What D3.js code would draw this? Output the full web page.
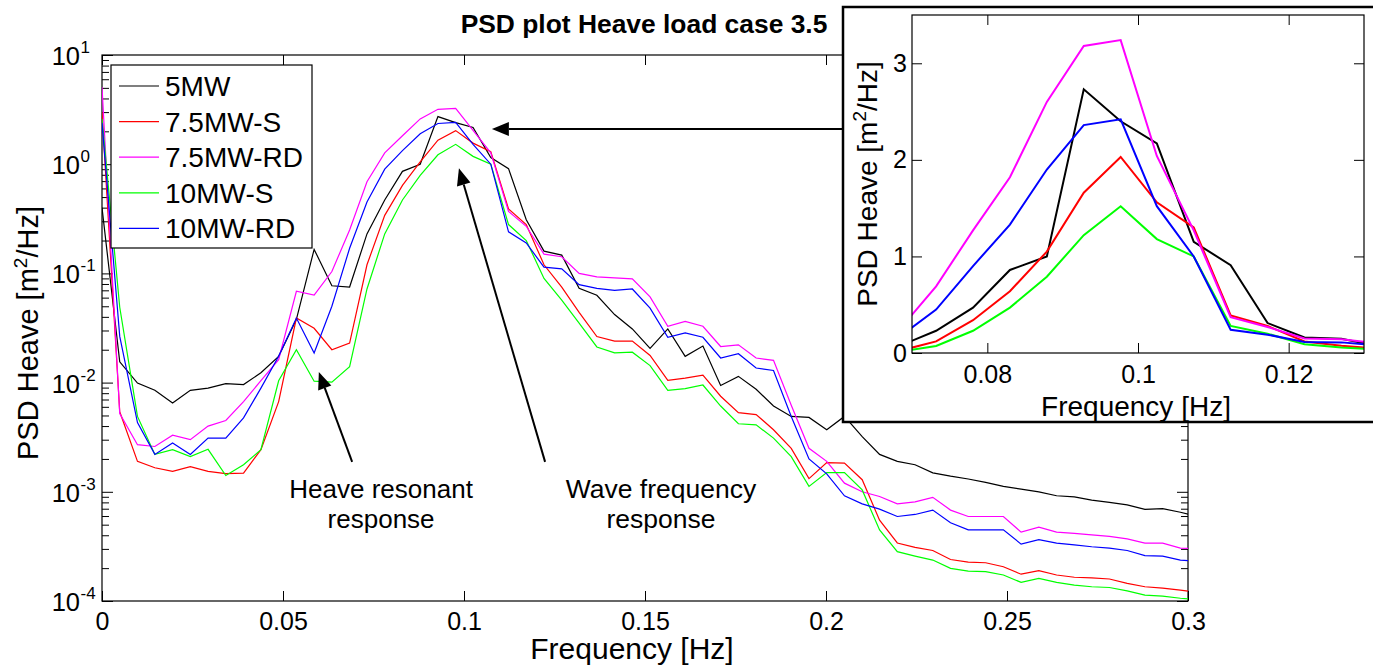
<!DOCTYPE html>
<html><head><meta charset="utf-8">
<script src="https://cdn.jsdelivr.net/npm/d3@7/dist/d3.min.js"></script>
<style>
html,body{margin:0;padding:0;background:#fff;}
svg{display:block;font-family:"Liberation Sans",Arial,Helvetica,sans-serif;}
</style></head><body>
<svg id="chart" width="1373" height="667"></svg>
<script>
// ---------------- DATA ----------------
const frequency = [0,0.0049,0.0098,0.0146,0.0195,0.0244,0.0293,0.0342,0.0391,0.0439,
  0.0488,0.0537,0.0586,0.0635,0.0684,0.0732,0.0781,0.0830,0.0879,0.0928,
  0.0977,0.1025,0.1074,0.1123,0.1172,0.1221,0.1270,0.1318,0.1367,0.1416,
  0.1465,0.1514,0.1563,0.1611,0.1660,0.1709,0.1758,0.1807,0.1855,0.1904,
  0.1953,0.2002,0.2051,0.2100,0.2148,0.2197,0.2246,0.2295,0.2344,0.2393,
  0.2441,0.2490,0.2539,0.2588,0.2637,0.2686,0.2734,0.2783,0.2832,0.2881,
  0.2930,0.2979,0.3027];

const seriesNames = ["5MW","7.5MW-S","7.5MW-RD","10MW-S","10MW-RD"];

const psd5MW = [0.4,0.0155,0.0099,0.0085,0.0065,0.0085,0.0089,0.0098,0.0096,0.0123,
  0.0174,0.038,0.166,0.077,0.075,0.23,0.47,0.86,1.0,2.73,
  2.4,2.17,1.15,0.91,0.31,0.16,0.147,0.073,0.063,0.042,
  0.031,0.0206,0.031,0.0174,0.0216,0.0094,0.0114,0.0087,0.0061,0.0049,
  0.0048,0.0037,0.0049,0.0032,0.0022,0.0019,0.00177,0.00149,0.00139,0.00131,
  0.00122,0.00112,0.00106,0.001,0.00092,0.0009,0.00084,0.0008,0.00076,0.00069,
  0.0007,0.00065,0.00059];

const psd75MWS = [3.0,0.0054,0.0019,0.00166,0.00154,0.0017,0.00154,0.00147,0.00148,0.00243,
  0.0067,0.039,0.0314,0.02,0.023,0.12,0.34,0.64,1.05,1.66,
  2.03,1.56,1.3,0.39,0.28,0.12,0.075,0.044,0.0264,0.024,
  0.024,0.0177,0.0105,0.011,0.0117,0.0075,0.0053,0.0051,0.0037,0.0025,
  0.00132,0.00185,0.00183,0.00129,0.00055,0.00034,0.00031,0.00029,0.00024,0.000227,
  0.000224,0.000206,0.000176,0.00019,0.000173,0.000165,0.000163,0.000159,0.000145,0.000135,
  0.000131,0.000126,0.00012];

const psd75MWRD = [5.1,0.0052,0.0027,0.0026,0.0033,0.003,0.004,0.0045,0.0067,0.0104,
  0.0162,0.0686,0.0634,0.104,0.25,0.69,1.27,1.82,2.6,3.18,
  3.24,2.04,1.27,0.37,0.27,0.15,0.142,0.1,0.093,0.091,
  0.089,0.061,0.0328,0.0364,0.0328,0.0214,0.0222,0.0168,0.016,0.0062,
  0.0025,0.0019,0.0012,0.001,0.000905,0.000776,0.00081,0.00089,0.00068,0.000594,
  0.000594,0.000594,0.000427,0.000475,0.000427,0.000417,0.000403,0.00039,0.000371,0.000339,
  0.000339,0.000305,0.0003];

const psd10MWS = [2.6,0.049,0.0049,0.0022,0.00243,0.0021,0.00245,0.00141,0.00177,0.00243,
  0.0104,0.02,0.0103,0.0101,0.014,0.072,0.23,0.47,0.79,1.22,
  1.52,1.18,1.0,0.28,0.2,0.09,0.057,0.035,0.0212,0.0187,
  0.019,0.0143,0.0085,0.0088,0.0095,0.0061,0.0042,0.0041,0.0031,0.0021,
  0.00112,0.0015,0.0015,0.00104,0.000447,0.000283,0.000258,0.000237,0.000199,0.000188,
  0.000186,0.000173,0.000148,0.000161,0.000148,0.00014,0.000135,0.000133,0.000124,0.000113,
  0.000111,0.000106,0.000103];

const psd10MWRD = [2.4,0.0265,0.0043,0.0022,0.0028,0.0022,0.0031,0.0031,0.00475,0.0089,
  0.0174,0.039,0.0187,0.05,0.17,0.45,0.9,1.33,1.9,2.36,
  2.42,1.52,1.0,0.24,0.19,0.114,0.11,0.079,0.073,0.07,
  0.072,0.048,0.026,0.0285,0.026,0.0168,0.0184,0.0136,0.0129,0.0049,
  0.002,0.00146,0.00092,0.000776,0.000694,0.000594,0.00062,0.00068,0.00052,0.000449,
  0.000449,0.000449,0.000332,0.000364,0.000339,0.000327,0.000314,0.000305,0.00029,0.00026,
  0.000258,0.000237,0.00023];

const seriesColors = ["#000000","#ff0000","#ff00ff","#00ff00","#0000ff"];

const xTicksMain = [0,0.05,0.1,0.15,0.2,0.25,0.3];
const xTickLabelsMain = ["0","0.05","0.1","0.15","0.2","0.25","0.3"];
const yDecades = [1e-4,1e-3,1e-2,1e-1,1,10];
const yExponents = ["-4","-3","-2","-1","0","1"];
const xTicksInset = [0.08,0.1,0.12];
const xTickLabelsInset = ["0.08","0.1","0.12"];
const yTicksInset = [0,1,2,3];
const yTickLabelsInset = ["0","1","2","3"];

const titleText = "PSD plot Heave load case 3.5";
const xLabel = "Frequency [Hz]";
const annoHeave = ["Heave resonant","response"];
const annoWave = ["Wave frequency","response"];

// ---------------- BUILD ----------------
const allSeries = [psd5MW, psd75MWS, psd75MWRD, psd10MWS, psd10MWRD];
const table = seriesNames.map((name,i)=>({
  name, color: seriesColors[i],
  values: frequency.map((f,k)=>({f, v: allSeries[i][k]}))
}));

const svg = d3.select("#chart");
const FONT = '"Liberation Sans",Arial,Helvetica,sans-serif';

// Main axes geometry
const M = {left:102, right:1188, top:55, bottom:601};
const x = d3.scaleLinear().domain([0,0.3]).range([M.left, M.right]);
const y = d3.scaleLog().domain([1e-4,10]).range([M.bottom, M.top]);

svg.append("defs").append("clipPath").attr("id","clipMain")
  .append("rect").attr("x",M.left).attr("y",M.top)
  .attr("width",M.right-M.left).attr("height",M.bottom-M.top);

const minorVals = [];
yDecades.slice(0,-1).forEach(d=>{ for(let m=2;m<=9;m++) minorVals.push(d*m); });

const gAx = svg.append("g");
gAx.append("g").attr("transform",`translate(0,${M.bottom})`)
  .call(d3.axisBottom(x).tickValues(xTicksMain).tickSizeInner(-10).tickSizeOuter(0)
    .tickPadding(11).tickFormat((d,i)=>xTickLabelsMain[i]))
  .call(g=>{g.select(".domain").remove();
    g.selectAll("text").attr("font-size",25).attr("font-family",FONT).attr("fill","#000");
    g.selectAll("line").attr("stroke","#000");});
gAx.append("g").attr("transform",`translate(0,${M.top})`)
  .call(d3.axisTop(x).tickValues(xTicksMain).tickSizeInner(-10).tickSizeOuter(0).tickFormat(""))
  .call(g=>{g.select(".domain").remove(); g.selectAll("line").attr("stroke","#000");});
[["L",M.left,d3.axisLeft],["R",M.right,d3.axisRight]].forEach(([s,px,ax])=>{
  gAx.append("g").attr("transform",`translate(${px},0)`)
    .call(ax(y).tickValues(yDecades).tickSizeInner(-11).tickSizeOuter(0).tickFormat(""))
    .call(g=>{g.select(".domain").remove(); g.selectAll("line").attr("stroke","#000");});
  gAx.append("g").attr("transform",`translate(${px},0)`)
    .call(ax(y).tickValues(minorVals).tickSizeInner(-7).tickSizeOuter(0).tickFormat(""))
    .call(g=>{g.select(".domain").remove(); g.selectAll("line").attr("stroke","#000");});
});
const yl = gAx.append("g");
yDecades.forEach((d,i)=>{
  yl.append("text").attr("x",80).attr("y",y(d)+10).attr("text-anchor","end")
    .attr("font-size",25.5).text("10");
  yl.append("text").attr("x",80.5).attr("y",y(d)-2).attr("font-size",17).text(yExponents[i]);
});

svg.append("rect").attr("x",M.left).attr("y",M.top)
  .attr("width",M.right-M.left).attr("height",M.bottom-M.top)
  .attr("fill","none").attr("stroke","#000").attr("stroke-width",1.2);

const lineMain = d3.line().x(d=>x(d.f)).y(d=>y(d.v));
svg.append("g").attr("clip-path","url(#clipMain)")
  .selectAll("path").data(table).join("path")
  .attr("d",d=>lineMain(d.values)).attr("fill","none")
  .attr("stroke",d=>d.color).attr("stroke-width",1.2).attr("stroke-linejoin","miter");

svg.append("text").attr("x",632).attr("y",659).attr("text-anchor","middle")
  .attr("font-size",30).text(xLabel);
const yLab = svg.append("text").attr("transform",`translate(38,${(M.top+M.bottom)/2+5}) rotate(-90)`)
  .attr("text-anchor","middle").attr("font-size",29);
yLab.append("tspan").text("PSD Heave [m");
yLab.append("tspan").attr("dy",-11).attr("font-size",19).text("2");
yLab.append("tspan").attr("dy",11).text("/Hz]");
svg.append("text").attr("x",644).attr("y",33).attr("text-anchor","middle")
  .attr("font-size",26.4).attr("font-weight","bold").text(titleText);

// legend
const lg = svg.append("g");
lg.append("rect").attr("x",111).attr("y",65).attr("width",201).attr("height",183)
  .attr("fill","#fff").attr("stroke","#000").attr("stroke-width",1.2);
table.forEach((s,i)=>{
  const cy = 86 + i*35.6;
  lg.append("line").attr("x1",119).attr("x2",159).attr("y1",cy).attr("y2",cy)
    .attr("stroke",s.color).attr("stroke-width",1.2);
  lg.append("text").attr("x",165).attr("y",cy+10).attr("font-size",28).text(s.name);
});

// annotations (positions in data space)
function arrow(g, f0, v0, f1, v1, w){
  const x0=x(f0), y0=y(v0), x1=x(f1), y1=y(v1);
  const ang=Math.atan2(y1-y0,x1-x0), L=17, W=7;
  const bx=x1-L*Math.cos(ang), by=y1-L*Math.sin(ang);
  g.append("line").attr("x1",x0).attr("y1",y0).attr("x2",bx).attr("y2",by)
    .attr("stroke","#000").attr("stroke-width",w);
  const px=-Math.sin(ang), py=Math.cos(ang);
  g.append("polygon").attr("points",[[x1,y1],[bx+W*px,by+W*py],[bx-W*px,by-W*py]].map(p=>p.join(",")).join(" "))
    .attr("fill","#000");
}
const ga = svg.append("g");
arrow(ga, 0.0691, 0.00188, 0.0599, 0.0125, 2);
arrow(ga, 0.1224, 0.00188, 0.0986, 0.92, 2);
arrow(ga, 0.205, 2.1, 0.1077, 2.1, 2);
annoHeave.forEach((t,i)=>ga.append("text").attr("x",x(0.0771)).attr("y",y(i?4.66e-4:8.77e-4))
  .attr("text-anchor","middle").attr("font-size",26).text(t));
annoWave.forEach((t,i)=>ga.append("text").attr("x",x(0.1544)).attr("y",y(i?4.66e-4:8.77e-4))
  .attr("text-anchor","middle").attr("font-size",26.5).text(t));

// ---------------- INSET ----------------
const I = {left:912, right:1364, top:15, bottom:353};
const xi = d3.scaleLinear().domain([0.07,0.13]).range([I.left, I.right]);
const yi = d3.scaleLinear().domain([0,3.5]).range([I.bottom, I.top]);
const gi = svg.append("g");
gi.append("rect").attr("x",843).attr("y",7).attr("width",540).attr("height",415)
  .attr("fill","#fff").attr("stroke","#000").attr("stroke-width",2.5);
svg.select("defs").append("clipPath").attr("id","clipInset")
  .append("rect").attr("x",I.left).attr("y",I.top)
  .attr("width",I.right-I.left).attr("height",I.bottom-I.top);

gi.append("g").attr("transform",`translate(0,${I.bottom})`)
  .call(d3.axisBottom(xi).tickValues(xTicksInset).tickSizeInner(-10).tickSizeOuter(0)
    .tickPadding(12).tickFormat((d,i)=>xTickLabelsInset[i]))
  .call(g=>{g.select(".domain").remove();
    g.selectAll("text").attr("font-size",25).attr("font-family",FONT).attr("fill","#000");
    g.selectAll("line").attr("stroke","#000");});
gi.append("g").attr("transform",`translate(0,${I.top})`)
  .call(d3.axisTop(xi).tickValues(xTicksInset).tickSizeInner(-10).tickSizeOuter(0).tickFormat(""))
  .call(g=>{g.select(".domain").remove(); g.selectAll("line").attr("stroke","#000");});
gi.append("g").attr("transform",`translate(${I.left},0)`)
  .call(d3.axisLeft(yi).tickValues(yTicksInset).tickSizeInner(-10).tickSizeOuter(0)
    .tickPadding(5).tickFormat((d,i)=>yTickLabelsInset[i]))
  .call(g=>{g.select(".domain").remove();
    g.selectAll("text").attr("font-size",25).attr("font-family",FONT).attr("fill","#000");
    g.selectAll("line").attr("stroke","#000");});
gi.append("g").attr("transform",`translate(${I.right},0)`)
  .call(d3.axisRight(yi).tickValues(yTicksInset).tickSizeInner(-10).tickSizeOuter(0).tickFormat(""))
  .call(g=>{g.select(".domain").remove(); g.selectAll("line").attr("stroke","#000");});

const lineInset = d3.line().x(d=>xi(d.f)).y(d=>yi(d.v));
gi.append("g").attr("clip-path","url(#clipInset)")
  .selectAll("path").data(table).join("path")
  .attr("d",d=>lineInset(d.values)).attr("fill","none")
  .attr("stroke",d=>d.color).attr("stroke-width",2).attr("stroke-linejoin","miter");

gi.append("rect").attr("x",I.left).attr("y",I.top)
  .attr("width",I.right-I.left).attr("height",I.bottom-I.top)
  .attr("fill","none").attr("stroke","#000").attr("stroke-width",1.2);

gi.append("text").attr("x",1136).attr("y",416).attr("text-anchor","middle")
  .attr("font-size",28).text(xLabel);
const yLabI = gi.append("text").attr("transform",`translate(877,${(I.top+I.bottom)/2}) rotate(-90)`)
  .attr("text-anchor","middle").attr("font-size",28);
yLabI.append("tspan").text("PSD Heave [m");
yLabI.append("tspan").attr("dy",-11).attr("font-size",19).text("2");
yLabI.append("tspan").attr("dy",11).text("/Hz]");
</script>
</body></html>
